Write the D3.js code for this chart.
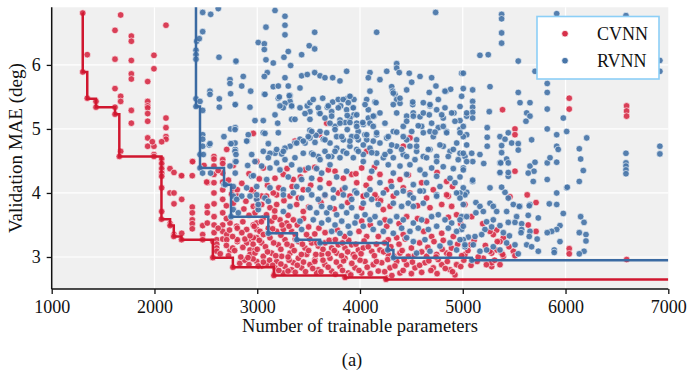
<!DOCTYPE html>
<html><head><meta charset="utf-8">
<script src="https://cdn.jsdelivr.net/npm/d3@7"></script>
<style>body{margin:0;background:#fff}svg{display:block;font-family:"Liberation Serif","Times New Roman",serif}</style>
</head><body><svg id="chart" width="688" height="374"></svg>
<script>
const seriesNames = ["CVNN", "RVNN"];
const xTicks = [1000, 2000, 3000, 4000, 5000, 6000, 7000];
const yTicks = [3, 4, 5, 6];
const xLabel = "Number of trainable parameters";
const yLabel = "Validation MAE (deg)";
const caption = "(a)";

// Pareto fronts (step lines)
const cvnnFront = [[1300,6.81],[1302,5.89],[1346,5.47],[1431,5.34],[1616,5.23],[1658,4.57],[2068,3.59],[2152,3.49],[2188,3.32],[2263,3.27],[2568,2.99],[2763,2.84],[3162,2.71],[3854,2.68],[4253,2.65],[7000,2.65]];
const rvnnFront = [[2404,7.2],[2404,5.35],[2443,4.39],[2677,4.13],[2745,3.63],[3108,3.37],[3385,3.27],[3611,3.22],[4270,3.11],[4325,2.99],[5088,2.95],[7000,2.95]];

const rvnnPoints = [
[2404,5.35],[2443,4.39],[2677,4.13],[2745,3.63],[3108,3.37],[3385,3.27],[3611,3.22],[4270,3.11],[4325,2.99],[5088,2.95],
[2469,6.82],[2547,6.79],[2621,6.88],[2469,6.52],[2411,6.37],[2436,6.41],[2404,6.23],[2404,6.16],[2404,6.09],[2628,6.12],[2793,6.05],[2735,5.77],[2735,5.71],[2741,5.55],[2540,5.59],[2540,5.54],[2631,5.47],[2631,5.34],[2404,5.47],[2443,5.43],[2469,5.29],[2786,5.38],[2741,5.00],[2786,5.02],[2469,4.91],[2469,4.84],[2469,4.73],[2533,4.75],[2676,4.88],[2741,4.77],[2786,4.68],[2443,4.60],[2786,4.49],[2786,4.31],[2735,4.42],[2546,4.31],[2468,4.31],[2689,4.13],[2767,4.10],[2767,3.95],
[3173,6.85],[3270,6.76],[3270,6.62],[3270,6.47],[3085,6.59],[3559,6.51],[4162,6.51],[4736,6.82],[3010,6.35],[3069,6.33],[3069,6.24],[3506,6.30],[3559,6.25],[3302,6.21],[3085,6.08],[3156,6.03],[3260,6.12],[3325,5.99],[3432,6.16],[2793,6.06],[3098,5.88],[3069,5.82],[3270,5.80],[3432,5.83],[3487,5.85],[3559,5.88],[3611,5.83],[3659,5.80],[3734,5.80],[3805,5.75],[3870,5.90],[2864,5.82],[2849,5.67],[2936,5.59],[3069,5.54],[3156,5.66],[3205,5.67],[3302,5.67],[3416,5.64],[3319,5.52],[3205,5.48],[3319,5.43],[3270,5.40],[3253,5.33],[3335,5.35],[3416,5.33],[3487,5.36],[3513,5.41],[3545,5.46],[3513,5.27],[3637,5.48],[3682,5.34],[3724,5.27],[3734,5.42],[3789,5.46],[3812,5.36],[3870,5.47],[3909,5.50],[3941,5.46],[3870,5.30],[3929,5.33],[3941,5.22],[2786,5.38],[2929,5.34],[3059,5.13],[2978,5.13],[3199,5.09],[3335,5.15],[3367,5.15],[3604,5.25],[4065,5.46],[4081,5.30],[4146,5.42],[4081,5.17],[4136,5.20],[4097,5.09],[4032,5.07],[3968,5.09],[3902,5.17],[3854,5.10],[3805,5.14],[3757,5.04],[3708,5.09],[3659,5.17],[3611,4.96],[3676,4.94],[3876,4.99],[3983,4.96],[4048,4.91],[4162,4.91],[4129,4.81],[4065,4.83],[3983,4.83],[3919,4.88],[3837,4.83],[3773,4.88],[3708,4.78],[3643,4.84],[3572,4.90],[3513,4.98],[3513,4.86],[3465,4.78],[3416,4.84],[3367,4.78],[3319,4.73],[3270,4.70],[3238,4.61],[3173,4.62],[3124,4.62],[3059,4.65],[3108,4.77],[3059,4.94],[2913,4.91],[2903,4.81],[2784,4.99],[2784,4.78],[2784,4.65],[3205,4.94],[3530,4.62],[3594,4.57],[3659,4.65],[3724,4.57],[3773,4.70],[3837,4.65],[3902,4.73],[3968,4.68],[4032,4.60],[4097,4.70],[4162,4.62],[4227,4.55],[4292,4.65],[4357,4.73],[4421,4.60],[4486,4.73],[4551,4.65],[4616,4.57],[4681,4.68],[4746,4.57],[4810,4.73],[4876,4.65],[4973,4.62],[5021,4.57],
[4357,6.02],[4357,5.95],[4382,5.88],[4260,5.90],[4097,5.88],[4081,5.80],[4194,5.77],[4308,5.66],[4318,5.59],[4340,5.54],[4357,5.46],[4389,5.40],[4454,5.61],[4503,5.73],[4479,5.87],[4584,5.82],[4697,5.80],[4739,5.67],[4674,5.57],[4762,5.46],[4837,5.59],[4882,5.62],[4989,5.87],[4973,5.35],[4827,5.33],[4746,5.30],[4681,5.36],[4616,5.41],[4513,5.38],[4454,5.20],[4518,5.25],[4584,5.19],[4674,5.22],[4810,5.17],[4914,5.25],[4973,5.13],[5038,5.20],[4421,5.04],[4324,4.96],[4260,4.86],[4503,4.96],[4600,5.04],[4681,4.96],[4762,5.02],[4843,4.96],[4973,4.99],[5038,4.91],[4454,4.83],[4551,4.83],[4713,4.88],[4941,4.78],
[5378,6.79],[5378,6.72],[5378,6.50],[5378,6.34],[5167,6.15],[5248,6.16],[5540,6.06],[5914,6.80],[6588,6.77],[6918,6.07],[6918,5.90],[5005,5.87],[5703,5.90],[5822,5.71],[5822,5.57],[5265,5.66],[5005,5.63],[5096,5.61],[4989,5.51],[5096,5.43],[5096,5.34],[5096,5.26],[5096,5.17],[5038,5.25],[5258,5.27],[5540,5.57],[5557,5.41],[5654,5.41],[5622,5.25],[5654,5.20],[5615,5.12],[5822,5.31],[5978,5.17],[5822,5.00],[6011,4.96],[6206,4.86],[5914,4.91],[5238,5.02],[5238,4.87],[5238,4.73],[5362,4.88],[5411,4.84],[5443,4.94],[5476,4.78],[5540,4.77],[5540,4.67],[5670,4.83],[5378,4.74],[5378,4.63],[5427,4.53],[5362,4.47],[5443,4.47],[5362,4.31],[5443,4.26],[5654,4.42],[5703,4.48],[5693,4.34],[5637,4.31],[5686,4.18],[5822,4.47],[5849,4.55],[5914,4.73],[5929,4.68],[5914,4.48],[5822,4.21],[6011,4.08],[6134,4.69],[6147,4.53],[6173,4.35],[6134,4.18],[6588,4.62],[6588,4.47],[6588,4.42],[6588,4.36],[6588,4.30],[6918,4.73],[6918,4.61],[5005,4.88],[5005,4.62],[5087,4.62],[5097,4.49],[5167,4.60],[5204,4.46],[5005,4.39],[5096,4.18],[5265,4.08],[5411,4.01],[5038,4.01],
[5096,4.20],[5378,4.09],[5443,3.92],[5021,3.97],[5128,3.85],[5167,3.79],[5265,3.84],[5297,3.79],[5200,3.71],[5128,3.69],[5330,3.71],[5427,3.71],[5492,3.82],[5556,3.79],[5654,3.82],[5735,3.61],[5637,3.65],[5524,3.63],[5443,3.54],[5508,3.54],[5573,3.52],[5573,3.43],[5654,3.40],[5724,3.28],[5622,3.19],[5670,3.16],[5735,3.09],[5297,3.58],[5232,3.55],[5216,3.43],[5281,3.47],[5362,3.49],[5395,3.38],[5454,3.33],[5427,3.22],[5362,3.11],[5297,3.16],[5232,3.11],[5167,3.09],[5102,3.19],[5054,3.31],[5119,3.32],[5184,3.35],[5005,3.27],[5021,3.16],[4989,3.43],[4989,3.63],[5369,4.47],[5443,4.32],[5362,4.32],
[6147,3.63],[6180,3.54],[6199,3.35],[6199,3.25],[6134,3.38],[6180,3.09],[6134,3.05],[6017,4.09],[5914,4.00],[5842,3.83],[5914,3.82],[5978,3.68],[5946,3.49],[5914,3.43],[5865,3.40],[5822,3.38],[5946,3.24],[5890,3.11],[5890,3.07],[5540,3.05],[5508,3.19],[5647,3.80],[5550,3.79],[5567,3.38],[5647,3.32],
[2540,4.77],[2745,4.77],[2897,4.81],[2793,4.60],[2793,4.49],[2907,4.43],[2978,4.49],[2946,4.26],[2897,4.08],[2849,3.95],[2800,3.90],[2930,3.95],[2995,3.90],[3010,3.74],[2767,3.74],[2816,3.69],[2475,4.60],
[3075,5.54],[3215,5.50],[3312,5.52],[3221,5.36],[3335,5.36],[3594,5.33],[3691,5.36],[3789,5.33],[3837,5.46],[3886,5.41],[3935,5.33],[3902,5.51],[3968,5.22],[3173,5.22],[3465,5.24],[3513,5.15],[3611,5.24],[3724,5.20],[3805,5.09],[3876,5.21],[3902,5.10],[3968,5.04],[3075,4.93],[3530,4.96],[3497,4.88],[3448,4.81],[3562,4.79],[3659,4.83],[3757,4.99],[3822,4.88],[3902,4.81],[3968,4.88],[3384,4.78],[3254,4.65],[3189,4.68],[2946,4.60],[3108,4.55],[3189,4.47],[3270,4.52],[3367,4.55],[3448,4.62],[3545,4.60],[3611,4.52],[3692,4.57],[3757,4.65],[3805,4.55],[3870,4.62],[3935,4.55],[3984,4.65],[3708,4.44],[3578,4.38],[3497,4.39],[3416,4.36],[3335,4.44],[3221,4.36],[3124,4.39],[3043,4.42],[2962,4.27],[3302,4.25],[3432,4.21],[3530,4.23],[3627,4.31],[3773,4.25],[3870,4.34],[3092,4.21],[2995,4.10],[3124,4.08],[3254,4.05],[3384,4.10],[3497,4.05],[3611,4.08],[3741,4.05],[3854,4.08],[3951,4.03],
[4097,5.59],[4324,5.56],[4389,5.48],[4513,5.42],[4681,5.38],[4827,5.59],[4049,5.38],[4156,5.41],[4194,5.25],[4129,5.20],[4324,5.38],[4357,5.25],[4519,5.20],[4616,5.25],[4795,5.22],[4892,5.25],[4027,5.10],[4129,5.04],[4243,5.09],[4454,5.12],[4567,5.05],[4697,5.09],[4810,5.04],[4924,5.12],[5005,5.04],[4065,4.91],[4162,4.94],[4275,4.88],[4357,4.95],[4421,4.88],[4616,4.94],[4730,4.95],[4843,4.94],[4973,4.94],[4032,4.75],[4194,4.78],[4308,4.75],[4405,4.68],[4551,4.73],[4665,4.68],[4778,4.75],[4908,4.68],[5038,4.75],[4114,4.63],[4243,4.60],[4324,4.55],[4454,4.57],[4535,4.52],[4648,4.55],[4746,4.49],[4859,4.57],[4956,4.52],[5038,4.49],[4032,4.49],[4162,4.47],[4275,4.44],[4389,4.42],[4486,4.44],[4584,4.36],[4697,4.39],[4810,4.41],[4908,4.38],[5005,4.36],[4114,4.34],[4324,4.31],[4454,4.29],[4632,4.29],[4746,4.26],[4876,4.23],[4973,4.25],[4194,4.16],[4308,4.10],[4519,4.13],[4648,4.16],[4778,4.10],[4924,4.16],[5005,4.08],[4097,4.05],[4357,4.00],[4486,3.97],[4616,4.03],[4746,3.97],[4973,4.00],
[2995,3.97],[3075,3.92],[3254,3.97],[3351,4.00],[3432,3.92],[3530,3.97],[3594,3.90],[3659,3.97],[3741,3.92],[3838,3.97],[3919,3.90],[3968,4.00],[3319,3.79],[3254,3.71],[3513,3.77],[3578,3.69],[3627,3.79],[3676,3.69],[3708,3.77],[3773,3.66],[3822,3.79],[3870,3.69],[3919,3.77],[3968,3.63],[3545,3.58],[3627,3.53],[3692,3.58],[3757,3.50],[3822,3.56],[3886,3.48],[3951,3.53],[3724,3.40],[3805,3.37],[3902,3.37],[3432,3.43],[3416,3.56],[3010,3.82],[3108,3.87],
[4065,3.97],[4227,4.00],[4421,4.03],[4519,3.92],[4584,4.03],[4746,3.95],[4940,4.00],[4973,3.92],[4032,3.84],[4114,3.90],[4178,3.82],[4324,3.84],[4405,3.79],[4470,3.84],[4519,3.79],[4616,3.84],[5005,3.82],[4049,3.66],[4097,3.58],[4146,3.63],[4194,3.53],[4292,3.56],[4357,3.63],[4421,3.58],[4519,3.53],[4600,3.58],[4697,3.63],[4762,3.66],[4827,3.58],[4892,3.53],[4973,3.58],[5038,3.63],[4032,3.48],[4129,3.43],[4227,3.40],[4324,3.37],[4405,3.45],[4486,3.40],[4567,3.45],[4665,3.43],[4746,3.48],[4859,3.45],[4940,3.40],[5005,3.48],[4454,3.30],[4519,3.24],[4632,3.27],[4551,3.06],[4681,3.09],[4778,3.17],[4876,3.22],[4973,3.27],[4940,3.11],[5021,3.19]
];

const cvnnPoints = [
[1302,6.81],[1346,6.16],[1302,5.89],[1346,5.48],[1431,5.43],[1431,5.34],[1616,6.54],[1671,6.78],[1616,6.09],[1616,5.63],[1671,5.51],[1671,5.43],[1616,5.34],[1616,5.23],[1775,6.45],[1775,6.37],[1775,6.07],[1775,5.86],[1775,5.78],[1775,5.29],[1775,5.09],[1671,4.65],[1658,4.57],[2112,6.62],[1995,6.15],[1995,5.94],[1934,5.74],[1934,5.43],[1934,5.36],[1934,5.33],[1934,5.24],[1934,5.12],[1934,4.86],[1934,4.73],[1995,4.73],[1979,4.80],[2112,5.17],[2112,5.02],[2112,4.88],[2112,4.84],[2070,4.80],[2070,4.53],[2070,4.46],[2070,4.38],[2070,4.31],[2070,4.26],[2151,4.38],[2190,4.32],[2261,4.27],[1995,4.60],[1995,4.57],[2368,4.49],[2368,4.27],[2482,4.43],[2514,4.17],[2579,4.57],[2579,4.53],[2579,4.42],[2579,4.29],[2579,4.16],[2579,4.00],[2664,4.52],[2664,4.46],[2664,4.31],[2664,4.17],[2664,4.05],[2767,4.43],[2703,4.68],
[2070,4.08],[2070,3.71],[2068,3.59],[2151,4.00],[2190,4.00],[2190,3.83],[2265,3.90],[2152,3.52],[2152,3.49],[2190,3.35],[2188,3.32],[2265,3.37],[2263,3.27],[2368,3.78],[2368,3.69],[2368,3.58],[2368,3.52],[2368,3.44],[2469,3.49],[2469,3.35],[2469,3.27],[2514,3.79],[2514,3.69],[2514,3.53],[2514,4.16],[2580,3.83],[2580,3.63],[2580,3.50],[2580,3.38],[2570,3.24],[2606,3.27],[2606,3.20],[2606,3.14],[2606,3.09],[2568,2.99],[2664,3.90],[2664,3.69],[2664,3.50],[2664,3.40],[2664,3.28],[2703,3.35],[2703,3.27],[2735,3.53],[2735,3.10],[2761,3.14],[2763,2.84],[2806,3.24],[2800,3.48],[2767,4.05],
[2371,4.49],[2264,4.27],[2508,4.17],[2806,4.05],[2806,3.95],[2806,3.45],[2806,3.27],[2897,3.43],[2897,3.22],[2946,3.27],[2930,3.11],[2930,3.04],[2995,3.53],[2995,3.43],[2962,3.79],[2995,3.90],[2978,3.11],[2995,3.30],[2890,3.87],[2767,3.84],
[3676,5.09],[2962,4.93],[3604,4.91],[3367,4.81],[2995,4.49],[3059,4.39],[3173,4.23],[3254,4.29],[3351,4.21],[3465,4.36],[3611,4.21],[3692,4.36],[3757,4.34],[3838,4.23],[3919,4.29],[3968,4.16],[2962,4.05],[3043,3.95],[3189,3.97],[3319,3.95],[3448,4.05],[3659,3.96],[3789,4.00],[3902,3.95],
[4486,4.86],[4421,4.73],[4065,4.65],[4016,4.39],[4097,4.23],[4194,4.29],[4389,4.21],[4600,4.16],[4713,4.05],[4843,4.18],[4259,4.05],[4421,4.08],[4032,3.95],[4162,3.92],[4859,3.95],
[2962,4.03],[3156,4.00],[3043,3.82],[3124,3.77],[3189,3.82],[3384,3.82],[3448,3.71],[2978,3.69],[3059,3.61],[3140,3.56],[3221,3.58],[3286,3.53],[3351,3.58],[2962,3.50],[3027,3.40],[3108,3.45],[3189,3.40],[3254,3.43],[3335,3.40],[2962,3.30],[3043,3.22],[3124,3.30],[3205,3.19],[3270,3.27],[3335,3.17],[3400,3.24],[3465,3.14],[3530,3.22],[3594,3.17],[3659,3.22],[3724,3.14],[3789,3.19],[3854,3.14],[3919,3.19],[3984,3.11],[2978,3.06],[3059,3.01],[3140,3.06],[3238,3.01],[3319,3.06],[3400,2.98],[3481,3.04],[3562,2.96],[3627,3.04],[3708,2.98],[3773,3.06],[3854,2.98],[3935,3.04],[2995,2.93],[3092,2.88],[3189,2.93],[3270,2.85],[3351,2.91],[3432,2.83],[3513,2.88],[3594,2.80],[3659,2.88],[3724,2.78],[3805,2.85],[3886,2.75],[3951,2.83],[3335,2.80],[3254,2.75],[3173,2.83],[3165,2.73],[3162,2.71],[3578,2.75],[3870,2.69],[3854,2.68],[3043,2.86],
[4032,3.95],[4146,3.97],[4324,3.95],[4486,4.00],[4648,3.92],[4843,3.97],[4016,3.77],[4227,3.74],[4292,3.79],[4681,3.77],[4795,3.82],[4892,3.79],[4016,3.56],[4243,3.58],[4454,3.63],[4648,3.56],[4940,3.66],[4065,3.32],[4178,3.32],[4275,3.27],[4357,3.30],[4421,3.35],[4697,3.32],[4795,3.37],[4908,3.32],[4032,3.14],[4114,3.09],[4194,3.11],[4275,3.04],[4389,3.06],[4470,3.01],[4648,3.01],[4746,3.04],[4843,3.06],[5021,3.04],[4049,2.93],[4129,2.88],[4211,2.91],[4292,2.83],[4357,2.93],[4454,2.88],[4535,2.83],[4632,2.91],[4713,2.83],[4795,2.88],[4876,2.80],[4940,2.88],[4924,2.72],[4178,2.78],[4259,2.67],[4253,2.65],[4389,2.75],[4016,2.75],
[5387,5.30],[5508,5.00],[5508,4.91],[5508,4.34],[6036,5.48],[6036,5.31],[6594,5.36],[6594,5.28],[6594,5.20],[5459,3.94],[5021,3.82],[5087,3.63],[5194,3.52],[5330,3.42],[5395,3.30],[5362,3.24],[5297,3.35],[5330,3.11],[5378,3.06],[5281,3.06],[5265,3.40],[5200,2.98],[5281,2.85],[5362,2.88],[5281,2.91],[5395,3.01],[5492,3.09],[5508,3.02],[5637,3.50],[5713,3.40],[5713,3.85],[5627,3.97],[5077,3.19],[6036,3.13],[6036,3.05],[6595,2.96],[5336,3.24],[5388,3.04],[5265,3.09],
[2830,2.90],[2880,2.95],[2920,2.88],[2960,2.97],[3010,2.86],[3060,2.92],[3120,2.95],[3150,2.87],[3210,2.79],[3230,2.89],[3300,2.78],[3310,2.95],[3370,2.76],[3390,2.87],[3450,2.92],[3470,2.77],[3540,2.82],[3560,2.93],[3620,2.77],[3640,2.95],[3690,2.84],[3760,2.73],[3770,2.92],[3830,2.79],[3840,2.94],[3910,2.72],[3920,2.90],[3990,2.79],[4000,2.95],[4070,2.84],[4100,2.74],[4160,2.93],[4240,2.77],[4270,2.96],[4310,2.71],[4340,2.86],[4420,2.79],[4430,2.96],[4500,2.74],[4510,2.92],[4580,2.87],[4600,2.76],[4670,2.94],[4690,2.79],[4750,2.74],[4760,2.96],[4830,2.82],[4850,2.93],[4900,2.77],[4980,2.85],[5010,2.95],[5080,2.87],[5140,2.93],[5230,2.88],[5310,2.95],
[2640,3.05],[2700,3.18],[2720,3.02],[2780,3.10],[2840,3.00],[2860,3.15],[2880,3.28],[2910,2.99],[2960,3.20],[3000,3.12],[3020,3.26],[3080,3.16],[3100,3.08],[3160,3.22],[3180,3.02],[3230,3.12],[3290,3.20],[3300,3.00],[3360,3.10],[3370,3.28],[3430,3.04],[3440,3.20],[3500,3.10],[3510,3.28],[3570,3.04],[3580,3.22],[3640,3.12],[3690,3.05],[3700,3.26],[3750,3.10],[3760,3.27],[3820,3.02],[3830,3.22],[3880,3.08],[3890,3.26],[3950,3.00],[3960,3.20],[4010,3.05],[4040,3.25],[4080,3.16],[4140,3.02],[4160,3.20],[4230,3.08],[4240,3.22],[4300,3.16],[4330,3.01],[4380,3.20],[4410,3.10],[4440,3.28],[4500,3.14],[4530,3.02],[4580,3.22],[4600,3.08],[4660,3.15],[4720,3.24],[4740,3.00],[4800,3.12],[4810,3.26],[4870,3.04],[4890,3.14],[4950,3.20],[4990,3.02],[5050,3.10],[5110,3.26],[5150,3.00],[5220,3.18],[5450,3.16],
[2620,3.45],[2700,3.60],[2730,3.42],[2760,3.32],[2850,3.38],[2860,3.55],[2920,3.65],[2930,3.33],[2970,3.48],[3040,3.55],[3060,3.35],[3090,3.66],[3150,3.44],[3170,3.62],[3230,3.34],[3240,3.50],[3300,3.65],[3310,3.48],[3370,3.35],[3390,3.50],[3450,3.60],[3480,3.35],[3500,3.47],[3560,3.36],[3600,3.45],[3660,3.38],[3780,3.42],[3850,3.32],[3990,3.40],[4100,3.50],[4260,3.48],[4380,3.52],[4560,3.60],[4620,3.40],[4860,3.62],[4980,3.52],
[2620,4.35],[2700,3.80],[2720,4.20],[2750,3.98],[2850,4.15],[2870,3.75],[2920,4.30],[2940,4.05],[3000,3.78],[3020,4.22],[3090,3.95],[3100,4.12],[3170,3.72],[3210,4.08],[3260,3.88],[3290,4.38],[3340,4.10],[3400,3.92],[3420,4.25],[3500,3.78],[3520,4.12],[3560,4.40],[3620,3.85],[3700,4.15],[3750,3.75],[3830,4.05],[3880,3.85],[3960,4.30],[4060,4.12],[4140,4.40],[4200,3.88],[4300,4.18],[4470,4.28],[4560,3.80],[4750,4.32],[4900,4.10]
];

const colors = {CVNN: "#d7304a", RVNN: "#4875a8"};
const lineColors = {CVNN: "#d0172f", RVNN: "#3a6aa2"};

const svg = d3.select("#chart");
const L = 51.7, R = 668.3, T = 7.3, B = 289;
const x = d3.scaleLinear().domain([1000, 7000]).range([L, R]);
const y = d3.scaleLinear().domain([2.5, 6.9]).range([B, T]);

svg.append("defs").append("clipPath").attr("id", "plotclip")
  .append("rect").attr("x", L).attr("y", T).attr("width", R - L).attr("height", B - T);

svg.append("rect").attr("x", L).attr("y", T).attr("width", R - L).attr("height", B - T).attr("fill", "#f0f0f0");

const grid = svg.append("g");
grid.selectAll("line.gx").data(xTicks.filter(t => t > 1000 && t < 7000)).join("line")
  .attr("x1", d => x(d)).attr("x2", d => x(d)).attr("y1", T).attr("y2", B)
  .attr("stroke", "#fff").attr("stroke-width", 1.2);
grid.selectAll("line.gy").data(yTicks).join("line")
  .attr("x1", L).attr("x2", R).attr("y1", d => y(d)).attr("y2", d => y(d))
  .attr("stroke", "#fff").attr("stroke-width", 1.2);

const plot = svg.append("g").attr("clip-path", "url(#plotclip)");

function drawPoints(pts, color) {
  plot.append("g").selectAll("circle").data(pts).join("circle")
    .attr("cx", d => x(d[0])).attr("cy", d => y(d[1])).attr("r", 3.3)
    .attr("fill", color).attr("fill-opacity", 0.92)
    .attr("stroke", "#fff").attr("stroke-width", 0.7).attr("stroke-opacity", 0.85);
}
drawPoints(cvnnPoints, colors.CVNN);
drawPoints(rvnnPoints, colors.RVNN);

const line = d3.line().x(d => x(d[0])).y(d => y(d[1])).curve(d3.curveStepAfter);
plot.append("path").datum(cvnnFront).attr("d", line).attr("fill", "none")
  .attr("stroke", lineColors.CVNN).attr("stroke-width", 2.5);
plot.append("path").datum(rvnnFront).attr("d", line).attr("fill", "none")
  .attr("stroke", lineColors.RVNN).attr("stroke-width", 2.5);

const xAxis = svg.append("g").attr("transform", `translate(0,${B})`)
  .call(d3.axisBottom(x).tickValues(xTicks).tickFormat(d3.format("d")).tickSizeInner(5).tickSizeOuter(0).tickPadding(6));
const yAxis = svg.append("g").attr("transform", `translate(${L},0)`)
  .call(d3.axisLeft(y).tickValues(yTicks).tickFormat(d3.format("d")).tickSizeInner(5).tickSizeOuter(0).tickPadding(6));
[xAxis, yAxis].forEach(g => {
  g.selectAll("text").attr("font-size", 18).attr("fill", "#111").attr("font-family", '"Liberation Serif", serif');
  g.selectAll("line").attr("stroke", "#111").attr("stroke-width", 1.3);
  g.select(".domain").attr("stroke", "#111").attr("stroke-width", 1.5);
});
yAxis.select(".domain").attr("d", `M0,${T}V${B}`);
xAxis.select(".domain").attr("d", `M${L},0H${R}`);

svg.append("text").attr("x", (L + R) / 2).attr("y", 332).attr("text-anchor", "middle")
  .attr("font-size", 18.5).attr("fill", "#111").text(xLabel);
svg.append("text").attr("transform", `translate(22,${(T + B) / 2}) rotate(-90)`).attr("text-anchor", "middle")
  .attr("font-size", 19).attr("fill", "#111").text(yLabel);
svg.append("text").attr("x", 352).attr("y", 366).attr("text-anchor", "middle")
  .attr("font-size", 18.5).attr("fill", "#111").text(caption);

const legend = svg.append("g");
legend.append("rect").attr("x", 537).attr("y", 16.5).attr("width", 122).attr("height", 62.5)
  .attr("fill", "#fff").attr("stroke", "#8ccff7").attr("stroke-width", 1.6);
seriesNames.forEach((name, i) => {
  const yy = 33.7 + i * 27;
  legend.append("circle").attr("cx", 565).attr("cy", yy).attr("r", 3.3)
    .attr("fill", colors[name]).attr("stroke", "#fff").attr("stroke-width", 0.7);
  legend.append("text").attr("x", 597).attr("y", yy + 6).attr("font-size", 18)
    .attr("fill", "#111").text(name);
});
</script></body></html>
